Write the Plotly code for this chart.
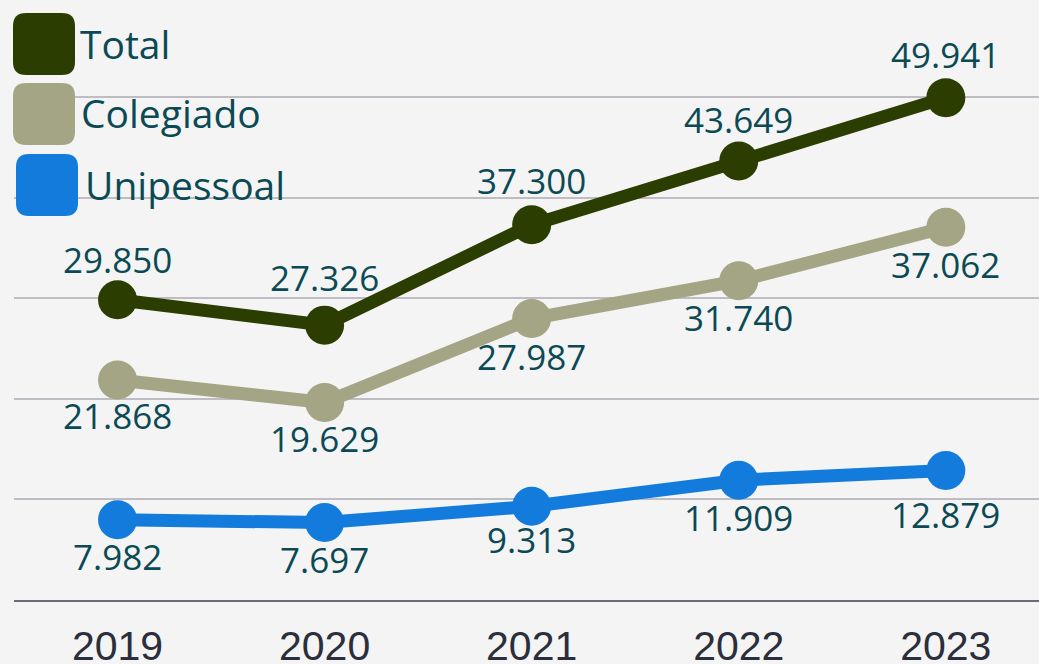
import plotly.graph_objects as go

years = ["2019", "2020", "2021", "2022", "2023"]
total = [29850, 27326, 37300, 43649, 49941]
colegiado = [21868, 19629, 27987, 31740, 37062]
unipessoal = [7982, 7697, 9313, 11909, 12879]

series_names = ["Total", "Colegiado", "Unipessoal"]
series_values = [total, colegiado, unipessoal]
series_colors = ["#2b3d00", "#a3a584", "#137bdc"]

# vertical distance (px, positive = up) from each point to the centre of its label
label_offsets = [
    [37.5, 44.5, 41, 38.5, 40.5],
    [-38, -39, -41.5, -39.5, -40],
    [-39.5, -39.5, -36.5, -40.5, -47.5],
]
DIGIT_CORR = 3  # digit glyph centre sits slightly below the text box centre

W, H = 1039, 664
ML, MR, MT, MB = 14, 0, 0, 64
PW, PH = W - ML - MR, H - MT - MB

LABEL_COLOR = "#0b4a55"


def fmt(v):
    return f"{v:,}".replace(",", ".")


fig = go.Figure()
annotations = []
for name, vals, col, offs in zip(series_names, series_values, series_colors, label_offsets):
    fig.add_trace(go.Scatter(
        x=years, y=vals, name=name, mode="lines+markers",
        line=dict(color=col, width=13),
        marker=dict(color=col, size=39),
        cliponaxis=False, showlegend=False, hoverinfo="x+y",
    ))
    for i, (yv, off) in enumerate(zip(vals, offs)):
        annotations.append(dict(
            x=i, y=yv, xref="x", yref="y", text=fmt(yv), showarrow=False,
            xanchor="center", yanchor="middle",
            yshift=off + DIGIT_CORR,
            font=dict(family="Open Sans", size=35, color=LABEL_COLOR),
        ))


def px_to_paper_x(px):
    return (px - ML) / PW


def px_to_paper_y(py):
    return (H - MB - py) / PH


def rounded_path(size, r):
    h = size / 2
    return (f"M {-h + r},{-h} L {h - r},{-h} Q {h},{-h} {h},{-h + r} "
            f"L {h},{h - r} Q {h},{h} {h - r},{h} L {-h + r},{h} "
            f"Q {-h},{h} {-h},{h - r} L {-h},{-h + r} Q {-h},{-h} {-h + r},{-h} Z")


legend_box_centers = [(44, 44), (44, 114), (47, 185)]
legend_text_x = [78, 79, 83]
shapes = []
for name, col, (cx, cy), tx in zip(series_names, series_colors, legend_box_centers, legend_text_x):
    shapes.append(dict(
        type="path", xref="paper", yref="paper",
        xsizemode="pixel", ysizemode="pixel",
        xanchor=px_to_paper_x(cx), yanchor=px_to_paper_y(cy),
        path=rounded_path(62, 13), fillcolor=col, line=dict(width=0), layer="above",
    ))
    annotations.append(dict(
        x=px_to_paper_x(tx), y=px_to_paper_y(cy), xref="paper", yref="paper",
        text=name, showarrow=False, xanchor="left", yanchor="middle",
        yshift=1,
        font=dict(family="Open Sans", size=39, color=LABEL_COLOR),
    ))

fig.update_layout(
    width=W, height=H, autosize=False,
    margin=dict(l=ML, r=MR, t=MT, b=MB, pad=0, autoexpand=False),
    paper_bgcolor="#f4f4f4", plot_bgcolor="#f4f4f4",
    annotations=annotations, shapes=shapes,
    xaxis=dict(
        type="category", categoryorder="array", categoryarray=years,
        range=[-0.5, 4.45], showgrid=False, zeroline=False, automargin=False,
        showline=True, linecolor="#6b6b75", linewidth=2,
        ticks="", tickfont=dict(family="Liberation Sans", size=41, color="#2b2e3b"),
        ticklabelstandoff=9,
    ),
    yaxis=dict(
        range=[0, 59650], tickvals=[10000, 20000, 30000, 40000, 50000],
        showticklabels=False, showgrid=True, gridcolor="#bdbdc3", gridwidth=1.5,
        zeroline=False, showline=False, ticks="", automargin=False,
    ),
)

fig.write_html(
    "out.html",
    config={"displayModeBar": False},
    post_script="document.body.style.margin='0';document.body.style.background='#f4f4f4';",
)
